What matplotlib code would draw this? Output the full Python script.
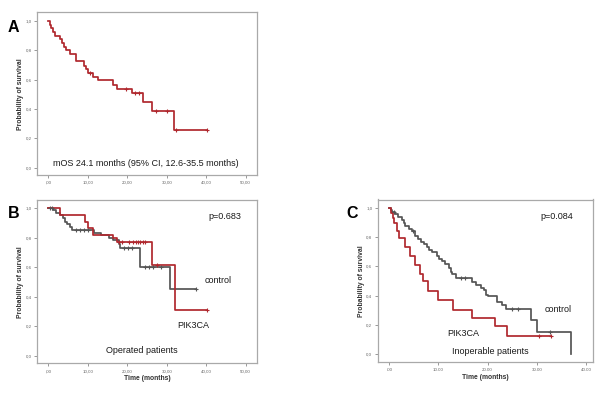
import numpy as np
import matplotlib
matplotlib.use("Agg")
import matplotlib.pyplot as plt

plt.rcParams['font.family'] = ['Liberation Sans', 'DejaVu Sans']

# ---------------- data ----------------
# Panel A: all patients
a_times = [0, 0.4, 0.8, 1.3, 1.7, 3.0, 3.5, 4.1, 4.6, 5.4, 6.9, 9.0, 9.5, 10.1, 11.4, 12.7,
           16.5, 17.5, 21.3, 24.1, 26.2, 31.9]
a_surv = [1.0, 0.975, 0.95, 0.925, 0.90, 0.875, 0.85, 0.825, 0.80, 0.775, 0.725, 0.695, 0.67,
          0.645, 0.62, 0.595, 0.565, 0.54, 0.51, 0.45, 0.385, 0.255]
a_end = 40.1
a_cens = [10.6, 19.6, 22.0, 23.0, 27.3, 30.1, 32.4, 40.1]

# Panel B: operated patients
b_pik_times = [0, 3.0, 9.4, 10.0, 11.3, 16.5, 17.3, 26.2, 32.1]
b_pik_surv = [1.0, 0.955, 0.91, 0.864, 0.82, 0.795, 0.77, 0.615, 0.31]
b_pik_end = 40.3
b_pik_cens = [17.8, 18.6, 20.5, 21.5, 22.1, 22.7, 23.3, 24.0, 24.6, 27.5, 40.3]

b_ctl_times = [0, 1.2, 2.0, 3.0, 3.6, 4.3, 4.8, 5.4, 6.0, 11.5, 13.3, 15.3, 16.5, 17.8, 18.2,
               23.2, 30.8]
b_ctl_surv = [1.0, 0.985, 0.97, 0.955, 0.935, 0.91, 0.89, 0.87, 0.853, 0.835, 0.82, 0.80,
              0.785, 0.76, 0.728, 0.604, 0.45]
b_ctl_end = 37.4
b_ctl_cens = [0.5, 1.0, 7.0, 8.0, 9.0, 10.0, 19.3, 20.3, 21.3, 24.5, 25.5, 26.5, 28.5, 37.4]

# Panel C: inoperable patients
c_pik_times = [0, 0.3, 0.7, 1.0, 1.6, 2.0, 3.3, 4.3, 5.2, 6.3, 6.9, 7.9, 10.0, 13.0, 16.9,
               21.6, 24.0]
c_pik_surv = [1.0, 0.966, 0.93, 0.897, 0.84, 0.795, 0.735, 0.67, 0.61, 0.55, 0.50, 0.43,
              0.37, 0.305, 0.247, 0.19, 0.125]
c_pik_end = 32.9
c_pik_cens = [30.5, 32.9]

c_ctl_times = [0, 0.3, 0.6, 1.2, 1.8, 2.6, 3.0, 3.3, 4.0, 4.6, 5.3, 5.8, 6.4, 7.0, 7.6, 8.0,
               8.8, 9.7, 10.2, 10.8, 11.4, 12.1, 12.5, 12.8, 13.5, 16.9, 17.6, 18.6, 19.2,
               19.6, 20.0, 22.0, 23.0, 23.7, 28.9, 30.1, 36.9]
c_ctl_surv = [1.0, 0.985, 0.97, 0.955, 0.935, 0.915, 0.895, 0.875, 0.855, 0.84, 0.81, 0.79,
              0.77, 0.75, 0.73, 0.715, 0.695, 0.67, 0.65, 0.635, 0.615, 0.59, 0.565, 0.545,
              0.52, 0.495, 0.475, 0.455, 0.44, 0.405, 0.395, 0.36, 0.338, 0.31, 0.232,
              0.155, 0.0]
c_ctl_end = 36.9
c_ctl_cens = [1.0, 4.9, 14.5, 15.5, 25.0, 26.2, 32.7]

ab_xticks = [0, 10, 20, 30, 40, 50]
ab_xlabels = [',00', '10,00', '20,00', '30,00', '40,00', '50,00']
c_xticks = [0, 10, 20, 30, 40]
c_xlabels = ['.00', '10.00', '20.00', '30.00', '40.00']
yticks = [0.0, 0.2, 0.4, 0.6, 0.8, 1.0]
ylabels = ['0,0', '0,2', '0,4', '0,6', '0,8', '1,0']

RED = '#b0282e'
GREY = '#555555'
FRAME = '#a9a9a9'
TXT = '#1a1a1a'

W, H = 600, 396
fig = plt.figure(figsize=(6.0, 3.96), dpi=100)


def add_axes(l, t, r, b):
    return fig.add_axes([l / W, 1 - b / H, (r - l) / W, (b - t) / H])


def km(ax, times, surv, end, cens, color):
    x = list(times) + [end]
    y = list(surv) + [surv[-1]]
    ax.step(x, y, where='post', color=color, lw=1.25, zorder=3)
    t = np.asarray(times)
    s = np.asarray(surv)
    cy = [s[np.searchsorted(t, c, side='right') - 1] for c in cens]
    ax.plot(cens, cy, ls='none', marker='+', ms=2.6, mew=0.8, color=color, zorder=4)


def style(ax, xlim, ylim, xticks, xlabels, xlabel):
    ax.set_xlim(*xlim)
    ax.set_ylim(*ylim)
    ax.set_xticks(xticks)
    ax.set_xticklabels(xlabels)
    ax.set_yticks(yticks)
    ax.set_yticklabels(ylabels)
    for sp in ax.spines.values():
        sp.set_color(FRAME)
        sp.set_linewidth(0.9)
    ax.tick_params(axis='both', length=2.2, width=0.6, color='#888888',
                   labelsize=3.2, labelcolor='#666666', pad=1.5)
    ax.tick_params(axis='x', pad=2)
    ax.set_ylabel('Probability of survival', fontsize=4.9, fontweight='bold', color='#333333')
    ax.yaxis.set_label_coords(-0.058, 0.5)
    if xlabel:
        ax.set_xlabel('Time (months)', fontsize=4.9, fontweight='bold', color='#333333')
        ax.xaxis.set_label_coords(0.5, -0.072)


# Panel A
axA = add_axes(36.7, 12.3, 257.3, 175.0)
km(axA, a_times, a_surv, a_end, a_cens, RED)
style(axA, (-2.94, 52.94), (-0.05, 1.06), ab_xticks, ab_xlabels, False)
axA.text(24.7, 0.03, 'mOS 24.1 months (95% CI, 12.6-35.5 months)', fontsize=6.5,
         ha='center', va='center', color=TXT)

# Panel B
axB = add_axes(36.7, 200.0, 257.3, 363.3)
km(axB, b_ctl_times, b_ctl_surv, b_ctl_end, b_ctl_cens, GREY)
km(axB, b_pik_times, b_pik_surv, b_pik_end, b_pik_cens, RED)
style(axB, (-2.94, 52.94), (-0.052, 1.056), ab_xticks, ab_xlabels, True)
axB.text(44.8, 0.943, 'p=0.683', fontsize=6.5, ha='center', va='center', color=TXT)
axB.text(43.0, 0.507, 'control', fontsize=6.5, ha='center', va='center', color=TXT)
axB.text(36.6, 0.204, 'PIK3CA', fontsize=6.5, ha='center', va='center', color=TXT)
axB.text(23.7, 0.034, 'Operated patients', fontsize=6.5, ha='center', va='center',
         color=TXT)

# Panel C
axC = add_axes(377.5, 199.5, 593.3, 362.3)
km(axC, c_ctl_times, c_ctl_surv, c_ctl_end, c_ctl_cens, GREY)
km(axC, c_pik_times, c_pik_surv, c_pik_end, c_pik_cens, RED)
style(axC, (-2.38, 41.49), (-0.055, 1.057), c_xticks, c_xlabels, True)
axC.text(34.1, 0.942, 'p=0.084', fontsize=6.5, ha='center', va='center', color=TXT)
axC.text(34.4, 0.308, 'control', fontsize=6.5, ha='center', va='center', color=TXT)
axC.text(15.05, 0.139, 'PIK3CA', fontsize=6.5, ha='center', va='center', color=TXT)
axC.text(20.5, 0.021, 'Inoperable patients', fontsize=6.5, ha='center', va='center',
         color=TXT)

# panel letters
for letter, (px, py) in zip(['A', 'B', 'C'], [(13.5, 27.0), (13.5, 213.0), (352.0, 213.0)]):
    fig.text(px / W, 1 - py / H, letter, fontsize=11.5, fontweight='bold',
             ha='center', va='center', color='black')

fig.savefig('out.png', dpi=100, facecolor='white')
